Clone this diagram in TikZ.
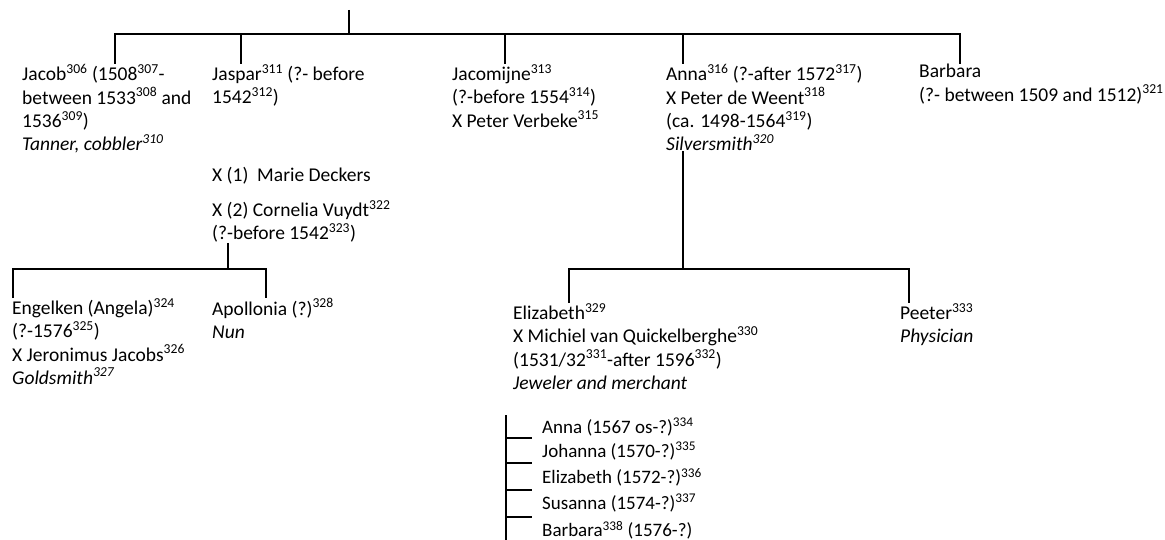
\documentclass[tikz,border=0pt]{standalone}
\usepackage{fontspec}
\setmainfont{Carlito}
\newcommand\su[1]{\textsuperscript{#1}}
\begin{document}
\begin{tikzpicture}[x=1pt,y=-1pt,
  person/.style={anchor=north west,inner sep=0pt,align=left,font=\fontsize{19.5}{23.3}\selectfont},
  kid/.style={anchor=north west,inner sep=0pt,align=left,font=\fontsize{19}{23}\selectfont},
  link/.style={line width=2.4pt},
  thin/.style={line width=1.2pt}]
\useasboundingbox (0,0) rectangle (1165,540);
% generation 1
\coordinate (top) at (349,10);
\coordinate (bar) at (349,34);
\coordinate (b1) at (115,34);
\coordinate (b2) at (241,34);
\coordinate (b3) at (505,34);
\coordinate (b4) at (683,34);
\coordinate (b5) at (960,34);
\node[person] (jacob) at (22,64) {Jacob\su{306} (1508\su{307}-\\between 1533\su{308} and\\1536\su{309})\\\textit{Tanner, cobbler\su{310}}};
\node[person] (jaspar) at (212,64) {Jaspar\su{311} (?- before\\1542\su{312})};
\node[person] (jacomijne) at (452,64) {Jacomijne\su{313}\\(?-before 1554\su{314})\\X Peter Verbeke\su{315}};
\node[person] (anna) at (666,64) {Anna\su{316} (?-after 1572\su{317})\\X Peter de Weent\su{318}\\(ca. 1498-1564\su{319})\\\textit{Silversmith\su{320}}};
\node[person] (barbara) at (919,64) {Barbara\\(?- between 1509 and 1512)\su{321}};
\draw[link] (top) -- (bar);
\draw[link] (b1 |- jacob.north) -- (b1) -- (b5) -- (b5 |- barbara.north);
\draw[link] (b2) -- (b2 |- jaspar.north);
\draw[link] (b3) -- (b3 |- jacomijne.north);
\draw[link] (b4) -- (b4 |- anna.north);
% Jaspar's marriages
\node[person] (marie) at (212,167) {X (1)~ Marie Deckers};
\node[person] (cornelia) at (212,200) {X (2) Cornelia Vuydt\su{322}\\(?-before 1542\su{323})};
\coordinate (c0) at (228,269);
\coordinate (c1) at (13,269);
\coordinate (c2) at (266,269);
\node[person] (engelken) at (12,298) {Engelken (Angela)\su{324}\\(?-1576\su{325})\\X Jeronimus Jacobs\su{326}\\\textit{Goldsmith\su{327}}};
\node[person] (apollonia) at (212,298) {Apollonia (?)\su{328}\\\textit{Nun}};
\draw[link] (c0 |- cornelia.south) -- (c0);
\draw[link] (c1 |- engelken.north) -- (c1) -- (c2) -- (c2 |- apollonia.north);
% Anna's children
\coordinate (a0) at (683,269);
\coordinate (a1) at (569,269);
\coordinate (a2) at (909,269);
\node[person] (elizabeth) at (513,303) {Elizabeth\su{329}\\X Michiel van Quickelberghe\su{330}\\(1531/32\su{331}-after 1596\su{332})\\\textit{Jeweler and merchant}};
\node[person] (peeter) at (900,303) {Peeter\su{333}\\\textit{Physician}};
\draw[link] (a0 |- anna.south) -- (a0);
\draw[link] (a1 |- elizabeth.north) -- (a1) -- (a2) -- (a2 |- peeter.north);
% grandchildren
\coordinate (g0) at (506,415);
\coordinate (g1) at (506,540);
\node[kid] (k1) at (542,418) {Anna (1567 os-?)\su{334}};
\node[kid] (k2) at (542,442) {Johanna (1570-?)\su{335}};
\node[kid] (k3) at (542,468) {Elizabeth (1572-?)\su{336}};
\node[kid] (k4) at (542,494) {Susanna (1574-?)\su{337}};
\node[kid] (k5) at (542,521) {Barbara\su{338} (1576-?)};
\draw[link] (g0) -- (g1);
\coordinate (t1) at (532,438);
\coordinate (t2) at (532,463);
\coordinate (t3) at (532,490);
\coordinate (t4) at (532,517);
\draw[thin] (g0 |- t1) -- (t1);
\draw[link] (g0 |- t2) -- (t2);
\draw[link] (g0 |- t3) -- (t3);
\draw[link] (g0 |- t4) -- (t4);
\end{tikzpicture}
\end{document}
